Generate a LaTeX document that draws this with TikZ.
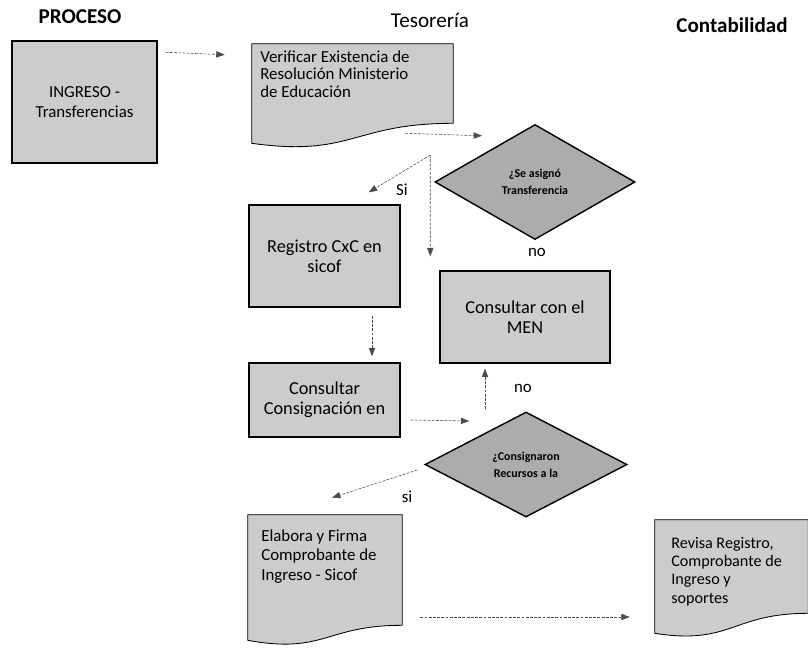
\documentclass[tikz,border=0pt]{standalone}
\usepackage{fontspec}
\setmainfont{Carlito}
\usetikzlibrary{shapes.geometric,arrows.meta,backgrounds,calc}

% document shape: #1 node, #2 rise of right corner, #3 dip of the wave
\newcommand{\docshape}[3]{%
  \path[docline] (#1.north west) -- (#1.north east) -- ([shift={(0,-#2)}]#1.south east)
    .. controls ($(#1.south west)!0.5!(#1.south east)+(0,-#2)$)
    and ($(#1.south west)!0.5!(#1.south east)+(0,#3)$) .. (#1.south west) -- cycle;
}

\begin{document}
\begin{tikzpicture}[
    x=0.025cm, y=-0.025cm,
    box/.style={rectangle, draw=black, line width=1pt, fill=gray!40, align=center, inner sep=2pt, font=\fontsize{13}{14}\selectfont},
    docbox/.style={rectangle, inner sep=0pt},
    doctext/.style={anchor=north west, align=left, inner sep=0pt, font=\fontsize{12}{14}\selectfont},
    docline/.style={draw=black, semithick, fill=gray!40},
    decision/.style={diamond, draw=black, line width=1pt, fill=gray!65, inner sep=0pt, align=center, font=\fontsize{8.5}{12}\selectfont\bfseries},
    flow/.style={-{Triangle[length=6pt,width=4.5pt]}, dash pattern=on 2pt off 1pt, black!70, thin},
    lbl/.style={font=\fontsize{12}{14}\selectfont},
    title/.style={font=\fontsize{15}{17}\selectfont}
  ]

    \useasboundingbox (0,0) rectangle (808,653);

    % Column titles
    \node[title, font=\fontsize{15}{17}\selectfont\bfseries] (proc) at (80,17) {PROCESO};
    \node[title] (tes) at (430,20) {Tesorería};
    \node[title, font=\fontsize{15}{17}\selectfont\bfseries] (cont) at (732,25) {Contabilidad};

    % Process steps
    \node[box, font=\fontsize{12}{14}\selectfont, minimum width=3.625cm, minimum height=3.05cm] (ing) at (84.5,102) {INGRESO -\\Transferencias};
    \node[docbox, minimum width=5.025cm, minimum height=2.475cm] (ver) at (352.5,93.5) {};
    \node[decision, minimum width=5cm, minimum height=2.875cm] (d1) at (535,182) {¿Se asignó\\Transferencia};
    \node[box, minimum width=3.775cm, minimum height=2.55cm] (reg) at (324.5,256) {Registro CxC en\\sicof};
    \node[box, minimum width=4.25cm, minimum height=2.3cm] (men) at (525,317) {Consultar con el\\MEN};
    \node[box, minimum width=3.775cm, minimum height=1.85cm] (con) at (324.5,400) {Consultar\\Consignación en};
    \node[decision, minimum width=5.05cm, minimum height=2.625cm] (d2) at (526,464.5) {¿Consignaron\\Recursos a la};
    \node[docbox, minimum width=3.85cm, minimum height=3.125cm] (ela) at (325,577.5) {};
    \node[docbox, minimum width=3.825cm, minimum height=2.825cm] (rev) at (731.5,576.5) {};

    % Document shapes behind the texts
    \begin{scope}[on background layer]
      \docshape{ver}{20}{14}
      \docshape{ela}{15}{14}
      \docshape{rev}{20}{12}
    \end{scope}

    \node[doctext, font=\fontsize{12}{12.5}\selectfont] (vertxt) at (260,50) {Verificar Existencia de\\Resolución Ministerio\\de Educación};
    \node[doctext] (elatxt) at (261,529) {Elabora y Firma\\Comprobante de\\Ingreso - Sicof};
    \node[doctext, font=\fontsize{11.5}{13}\selectfont] (revtxt) at (671,537) {Revisa Registro,\\Comprobante de\\Ingreso y\\soportes};

    % Branch point left of first decision
    \coordinate (split) at ([shift={(-4,-27)}]d1.west);

    % Connectors
    \draw[flow] ([shift={(8,12)}]ing.north east) -- ([shift={(-27,11)}]ver.north west);
    \draw[flow] ([shift={(-48,-10)}]ver.south east) -- ([shift={(-53,12)}]d1.north);
    \draw[flow] (split) -- ([shift={(-32,-12)}]reg.north east);
    \draw[flow] (split) -- ([shift={(-9,-14)}]men.north west);
    \draw[flow] ([shift={(47.5,8)}]reg.south) -- ([shift={(47.5,-6)}]con.north);
    \draw[flow] ([shift={(10,20)}]con.east) -- ([shift={(45,-43.5)}]d2.west);
    \draw[flow] ([shift={(-41,-2)}]d2.north) -- ([shift={(-40,5)}]men.south);
    \draw[flow] ([shift={(-7,5.5)}]d2.west) -- ([shift={(7,-17)}]ela.north);
    \draw[flow] ([shift={(18,39.5)}]ela.east) -- ([shift={(-25,40.5)}]rev.west);

    % Branch labels
    \node[lbl] (si1) at (402,190) {Si};
    \node[lbl] (no1) at (537,252) {no};
    \node[lbl] (no2) at (523,388) {no};
    \node[lbl] (si2) at (407,497) {si};

\end{tikzpicture}
\end{document}
